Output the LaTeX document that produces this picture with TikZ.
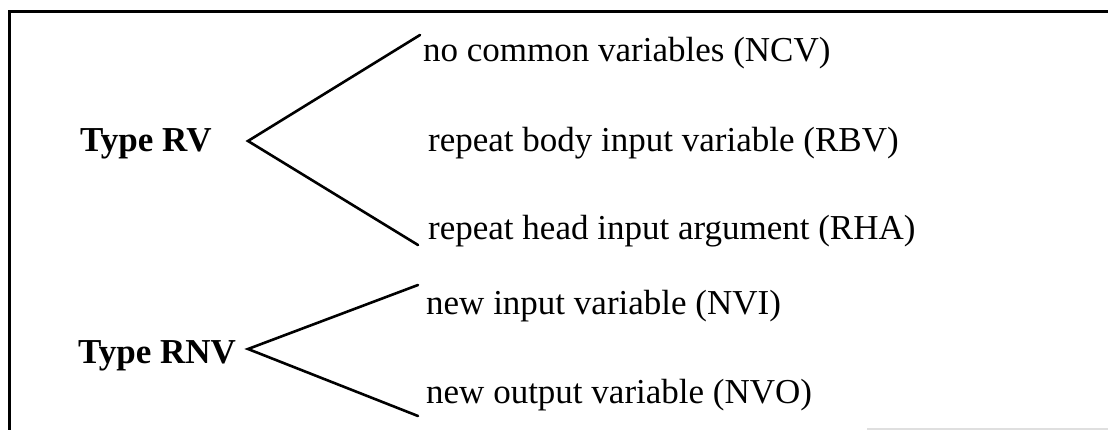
\documentclass[tikz,border=0pt]{standalone}
\usepackage{fontspec}
\setmainfont{Liberation Serif}

\begin{document}
\begin{tikzpicture}[x=1pt, y=-1pt,
    kind/.style={anchor=base west, inner sep=0pt,
                 font=\fontsize{35}{42}\selectfont\bfseries},
    leaf/.style={anchor=base west, inner sep=0pt,
                 font=\fontsize{35}{42}\selectfont},
    branch/.style={line width=2.6pt, line cap=round}]
  \useasboundingbox (0,0) rectangle (1108,430);

  % Frame (top and left edge only)
  \draw[line width=3pt] (1108,12) -- (9.5,12) -- (9.5,430);
  \draw[gray!25, line width=1.5pt] (867,429) -- (1108,429);

  % Type RV
  \node[kind] (rv) at (80,152) {Type RV};
  \node[leaf] (ncv) at (423,62) {no common variables (NCV)};
  \node[leaf] (rbv) at (428,152) {repeat body input variable (RBV)};
  \node[leaf] (rha) at (428,240) {repeat head input argument (RHA)};
  \coordinate (rv-fork) at (248,141);
  \coordinate (ncv-end) at (420,35);
  \coordinate (rha-end) at (418,245);
  \draw[branch] (ncv-end) -- (rv-fork) -- (rha-end);

  % Type RNV
  \node[kind] (rnv) at (78,363) {Type RNV};
  \node[leaf] (nvi) at (426,315) {new input variable (NVI)};
  \node[leaf] (nvo) at (426,403) {new output variable (NVO)};
  \coordinate (rnv-fork) at (248,349);
  \coordinate (nvi-end) at (418,285);
  \coordinate (nvo-end) at (418,416);
  \draw[branch] (nvi-end) -- (rnv-fork) -- (nvo-end);
\end{tikzpicture}
\end{document}
